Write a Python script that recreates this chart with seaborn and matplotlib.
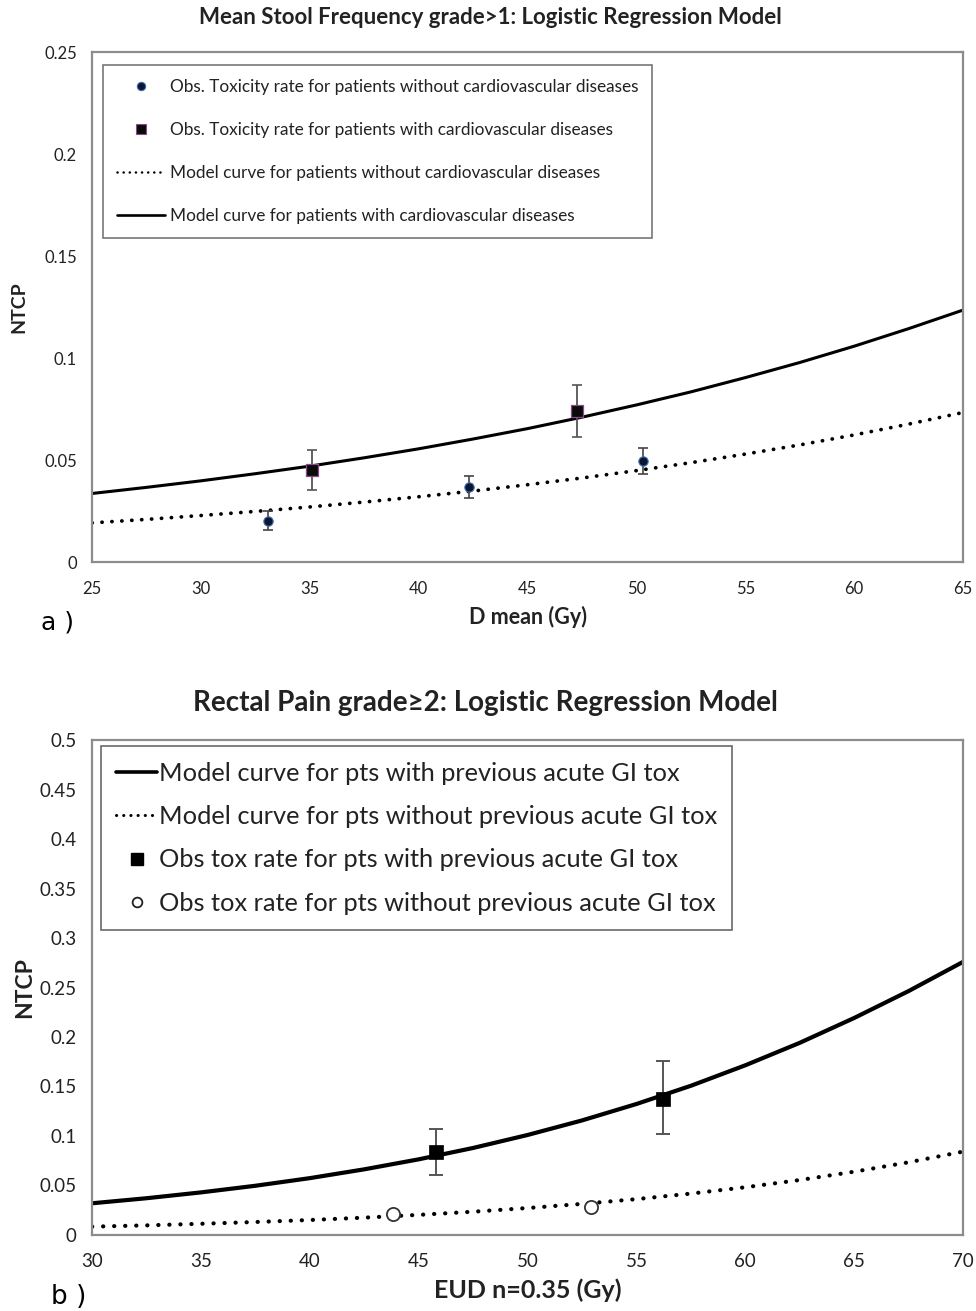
import numpy as np
import pandas as pd
import matplotlib
matplotlib.use("Agg")
import matplotlib.pyplot as plt
from matplotlib.lines import Line2D
import seaborn as sns

# ---------------- Panel a: mean stool frequency ----------------
a_dose_without = [33.1, 42.3, 50.3]
a_rate_without = [0.020, 0.0366, 0.0495]
a_err_lo_without = [0.0042, 0.0051, 0.0064]
a_err_hi_without = [0.0052, 0.0055, 0.0062]

a_dose_with = [35.1, 47.25]
a_rate_with = [0.0451, 0.0741]
a_err_lo_with = [0.0099, 0.0126]
a_err_hi_with = [0.0098, 0.0125]

a_curve_dose = [25, 27.5, 30, 32.5, 35, 37.5, 40, 42.5, 45,
                47.5, 50, 52.5, 55, 57.5, 60, 62.5, 65]
a_curve_without = [0.0192, 0.0209, 0.0228, 0.0248, 0.0270, 0.0294, 0.0320, 0.0348, 0.0379,
                   0.0412, 0.0448, 0.0487, 0.0529, 0.0574, 0.0623, 0.0676, 0.0733]
a_curve_with = [0.0336, 0.0366, 0.0398, 0.0433, 0.0470, 0.0511, 0.0555, 0.0603, 0.0654,
                0.0710, 0.0770, 0.0834, 0.0904, 0.0978, 0.1058, 0.1144, 0.1235]

a_xticks = [25, 30, 35, 40, 45, 50, 55, 60, 65]
a_yticks = [0, 0.05, 0.1, 0.15, 0.2, 0.25]
a_ylabels = ["0", "0.05", "0.1", "0.15", "0.2", "0.25"]

# ---------------- Panel b: rectal pain ----------------
b_dose_with = [45.8, 56.2]
b_rate_with = [0.084, 0.137]
b_err_lo_with = [0.0234, 0.0353]
b_err_hi_with = [0.0230, 0.0390]

b_dose_without = [43.8, 52.9]
b_rate_without = [0.0212, 0.0286]

b_curve_dose = [30, 32.5, 35, 37.5, 40, 42.5, 45, 47.5, 50,
                52.5, 55, 57.5, 60, 62.5, 65, 67.5, 70]
b_curve_with = [0.0320, 0.0371, 0.0430, 0.0497, 0.0574, 0.0663, 0.0764, 0.0879, 0.1010,
                0.1157, 0.1323, 0.1507, 0.1714, 0.1941, 0.2192, 0.2464, 0.2759]
b_curve_without = [0.0084, 0.0097, 0.0113, 0.0131, 0.0151, 0.0175, 0.0203, 0.0235, 0.0272,
                   0.0314, 0.0362, 0.0418, 0.0482, 0.0555, 0.0639, 0.0734, 0.0842]

b_xticks = [30, 35, 40, 45, 50, 55, 60, 65, 70]
b_yticks = [0, 0.05, 0.1, 0.15, 0.2, 0.25, 0.3, 0.35, 0.4, 0.45, 0.5]
b_ylabels = ["0", "0.05", "0.1", "0.15", "0.2", "0.25", "0.3", "0.35", "0.4", "0.45", "0.5"]

sns.set_style("white")
plt.rcParams["font.family"] = ["Lato", "DejaVu Sans"]

TXT = "#222222"
SPINE = "#8c8c8c"
DOTS = (0, (0.05, 2.6))

fig = plt.figure(figsize=(9.76, 13.11), dpi=100)
ax1 = fig.add_axes([0.0943, 0.5713, 0.8924, 0.3890])
ax2 = fig.add_axes([0.0943, 0.0580, 0.8924, 0.3775])


def style_axes(ax, fs, pad):
    for side in ["top", "right", "left", "bottom"]:
        ax.spines[side].set_visible(True)
        ax.spines[side].set_color(SPINE)
        ax.spines[side].set_linewidth(1.6)
    ax.tick_params(axis="both", which="major", direction="out", length=5,
                   width=1.2, color=SPINE, labelsize=fs, labelcolor=TXT)
    ax.tick_params(axis="x", pad=pad)
    ax.tick_params(axis="y", pad=6)
    ax.grid(False)


# ---------- panel a ----------
df_a = pd.DataFrame({"dose": a_curve_dose, "without": a_curve_without, "with": a_curve_with})
sns.lineplot(data=df_a, x="dose", y="without", ax=ax1, color="black",
             linewidth=2.7, linestyle=DOTS, dash_capstyle="round")
sns.lineplot(data=df_a, x="dose", y="with", ax=ax1, color="black", linewidth=2.2)

ax1.errorbar(a_dose_without, a_rate_without, yerr=[a_err_lo_without, a_err_hi_without],
             fmt="none", ecolor="#444444", elinewidth=1.2, capsize=3.5, capthick=1.2, zorder=3)
ax1.errorbar(a_dose_with, a_rate_with, yerr=[a_err_lo_with, a_err_hi_with],
             fmt="none", ecolor="#555555", elinewidth=1.3, capsize=3.5, capthick=1.2, zorder=3)
sns.scatterplot(x=a_dose_without, y=a_rate_without, ax=ax1, marker="o", s=45,
                color="#0b1633", edgecolor="#3d6fb0", linewidth=0.8, zorder=4)
sns.scatterplot(x=a_dose_with, y=a_rate_with, ax=ax1, marker="s", s=65,
                color="#0a0a0a", edgecolor="#8a4a8a", linewidth=0.9, zorder=4)

ax1.set_xlim(25, 65)
ax1.set_ylim(0, 0.25)
ax1.set_xticks(a_xticks)
ax1.set_yticks(a_yticks)
ax1.set_yticklabels(a_ylabels)
style_axes(ax1, 12, 9)
ax1.set_xlabel("D mean (Gy)", fontsize=15.5, fontweight="bold", color=TXT, labelpad=6)
ax1.set_ylabel("NTCP", fontsize=14, fontweight="bold", color=TXT, labelpad=12)
fig.text(0.502, 0.9863, "Mean Stool Frequency grade>1: Logistic Regression Model",
         fontsize=16, fontweight="bold", color=TXT, ha="center", va="center")

h_a = [
    Line2D([], [], linestyle="none", marker="o", markersize=6, color="#0b1633",
           markeredgecolor="#3d6fb0", markeredgewidth=0.8),
    Line2D([], [], linestyle="none", marker="s", markersize=7, color="#0a0a0a",
           markeredgecolor="#8a4a8a", markeredgewidth=0.8),
    Line2D([], [], color="black", linewidth=1.8, linestyle=(0, (0.05, 2.4)),
           dash_capstyle="round"),
    Line2D([], [], color="black", linewidth=1.9),
]
l_a = [
    "Obs. Toxicity rate for patients without cardiovascular diseases",
    "Obs. Toxicity rate for patients with cardiovascular diseases",
    "Model curve for patients without cardiovascular diseases",
    "Model curve for patients with cardiovascular diseases",
]
leg_a = ax1.legend(h_a, l_a, loc="upper left", bbox_to_anchor=(0.0126, 0.975),
                   borderaxespad=0, frameon=True, fancybox=False, fontsize=12.4,
                   labelspacing=1.58, handlelength=2.8, handletextpad=0.3,
                   borderpad=0.8, labelcolor=TXT)
leg_a.get_frame().set_edgecolor("#555555")
leg_a.get_frame().set_linewidth(1.2)

# ---------- panel b ----------
df_b = pd.DataFrame({"dose": b_curve_dose, "with": b_curve_with, "without": b_curve_without})
sns.lineplot(data=df_b, x="dose", y="with", ax=ax2, color="black", linewidth=3.0)
sns.lineplot(data=df_b, x="dose", y="without", ax=ax2, color="black",
             linewidth=3.0, linestyle=DOTS, dash_capstyle="round")

ax2.errorbar(b_dose_with, b_rate_with, yerr=[b_err_lo_with, b_err_hi_with],
             fmt="none", ecolor="#555555", elinewidth=1.4, capsize=5, capthick=1.4, zorder=3)
sns.scatterplot(x=b_dose_with, y=b_rate_with, ax=ax2, marker="s", s=110,
                color="black", edgecolor="black", linewidth=0.5, zorder=4)
sns.scatterplot(x=b_dose_without, y=b_rate_without, ax=ax2, marker="o", s=90,
                color="white", edgecolor="#333333", linewidth=1.3, zorder=4)

ax2.set_xlim(30, 70)
ax2.set_ylim(0, 0.5)
ax2.set_xticks(b_xticks)
ax2.set_yticks(b_yticks)
ax2.set_yticklabels(b_ylabels)
style_axes(ax2, 13.5, 8)
ax2.set_xlabel("EUD n=0.35 (Gy)", fontsize=18, fontweight="bold", color=TXT, labelpad=6)
ax2.set_ylabel("NTCP", fontsize=16.5, fontweight="bold", color=TXT, labelpad=3)
fig.text(0.497, 0.4638, "Rectal Pain grade\u22652: Logistic Regression Model",
         fontsize=20, fontweight="bold", color=TXT, ha="center", va="center")

h_b = [
    Line2D([], [], color="black", linewidth=2.6),
    Line2D([], [], color="black", linewidth=2.2, linestyle=(0, (0.05, 2.3)),
           dash_capstyle="round"),
    Line2D([], [], linestyle="none", marker="s", markersize=8, color="black"),
    Line2D([], [], linestyle="none", marker="o", markersize=7, color="white",
           markeredgecolor="#222222", markeredgewidth=1.3),
]
l_b = [
    "Model curve for pts with previous acute GI tox",
    "Model curve for pts without previous acute GI tox",
    "Obs tox rate for pts with previous acute GI tox",
    "Obs tox rate for pts without previous acute GI tox",
]
leg_b = ax2.legend(h_b, l_b, loc="upper left", bbox_to_anchor=(0.0103, 0.987),
                   borderaxespad=0, frameon=True, fancybox=False, fontsize=18.3,
                   labelspacing=0.8, handlelength=1.6, handletextpad=0.08,
                   borderpad=0.6, labelcolor=TXT)
leg_b.get_frame().set_edgecolor("#444444")
leg_b.get_frame().set_linewidth(1.2)

# panel letters
fig.text(0.042, 0.525, "a )", fontsize=18, color="black", ha="left", va="center",
         family=["DejaVu Sans"])
fig.text(0.052, 0.011, "b )", fontsize=19, color="black", ha="left", va="center",
         family=["DejaVu Sans"])

fig.savefig("out.png", dpi=100)
